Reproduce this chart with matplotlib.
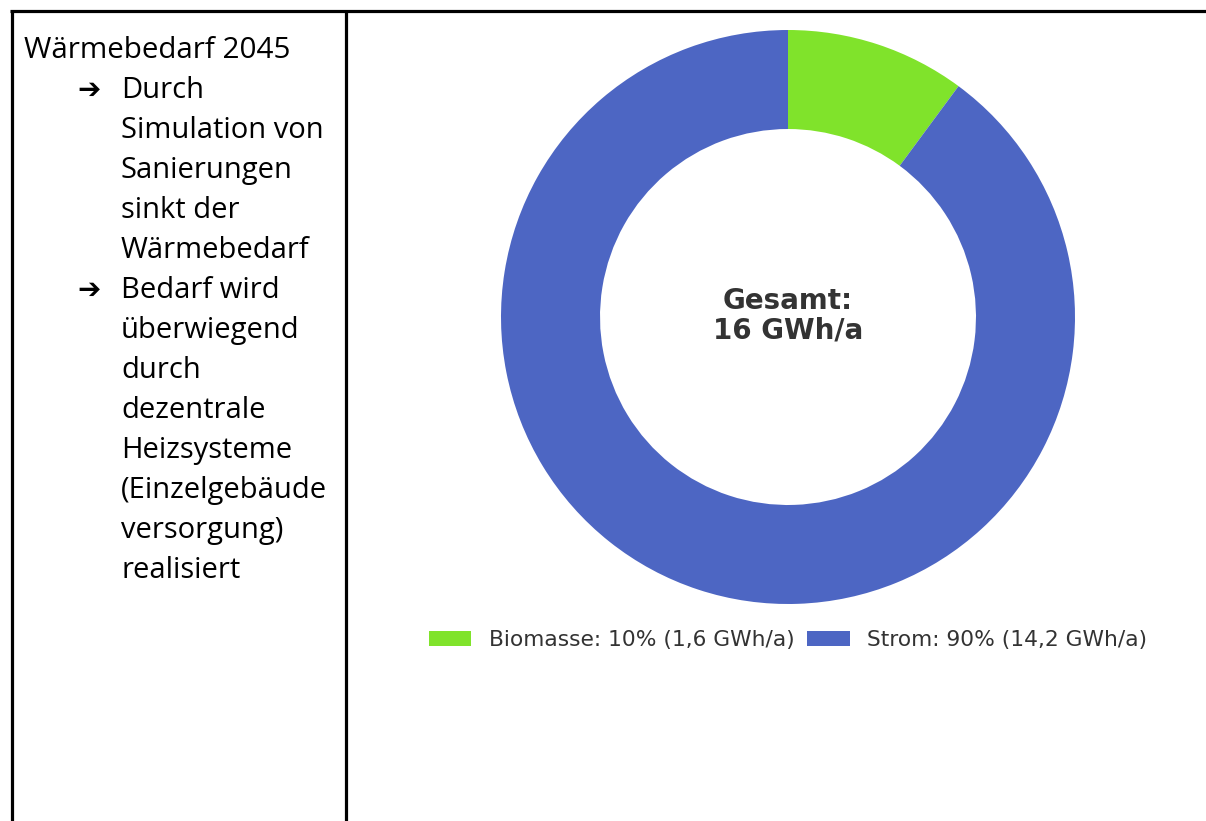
import matplotlib.pyplot as plt
from matplotlib.lines import Line2D

# Data
labels = ['Biomasse', 'Strom']
energy = [1.6, 14.2]          # GWh/a
shares = [10, 90]             # %
total_label = 'Gesamt:\n16 GWh/a'
colors = ['#80E32B', '#4D66C3']

title = 'Wärmebedarf 2045'
bullets = [
    ['Durch', 'Simulation von', 'Sanierungen', 'sinkt der', 'Wärmebedarf'],
    ['Bedarf wird', 'überwiegend', 'durch', 'dezentrale', 'Heizsysteme',
     '(Einzelgebäude', 'versorgung)', 'realisiert'],
]

W, H = 1206, 821
fig = plt.figure(figsize=(W / 100, H / 100), dpi=100)
fig.patch.set_facecolor('white')

def px(x, y):
    return x / W, 1 - y / H

# table borders
for (x0, y0), (x1, y1) in [((10, 11.5), (W, 11.5)),
                           ((11.5, 10), (11.5, H)),
                           ((345.5, 10), (345.5, H))]:
    a, b = px(x0, y0)
    c, d = px(x1, y1)
    fig.add_artist(Line2D([a, c], [b, d], color='black', linewidth=2.3,
                          solid_capstyle='butt'))

# left text column
fam = ['Open Sans', 'DejaVu Sans']
fig.text(*px(24, 58), title, fontsize=21.3, family=fam, va='baseline',
         color='black', fontweight='medium')
y = 98
for lines in bullets:
    fig.text(*px(77, y), '➔', fontsize=20, family=['DejaVu Sans'], va='baseline', color='black')
    for line in lines:
        fig.text(*px(121, y), line, fontsize=21, family=fam, va='baseline', color='black')
        y += 40

# donut chart
cx, cy, r = 788, 317, 287
ax = fig.add_axes([(cx - r) / W, (H - cy - r) / H, 2 * r / W, 2 * r / H])
wedges, _ = ax.pie(energy, colors=colors, startangle=90, counterclock=False,
                   wedgeprops=dict(width=0.345, edgecolor='none'), radius=1)
ax.set_xlim(-1, 1)
ax.set_ylim(-1, 1)
ax.set_aspect('equal')
ax.axis('off')
ax.text(0, 0.005, total_label, ha='center', va='center', fontsize=20,
        fontweight='bold', color='#333333', family='DejaVu Sans', linespacing=1.05)

leg_labels = [f'{l}: {s}% ({str(e).replace(".", ",")} GWh/a)'
              for l, s, e in zip(labels, shares, energy)]
fig.legend(wedges, leg_labels, loc='center', bbox_to_anchor=px(788, 640),
           ncol=2, frameon=False, fontsize=15.7, columnspacing=0.6,
           handletextpad=0.8, handlelength=1.95, labelcolor='#333333')

fig.savefig('out.png', dpi=100)
